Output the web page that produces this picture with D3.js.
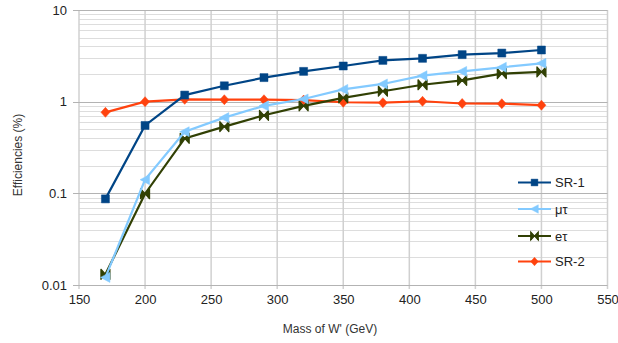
<!DOCTYPE html>
<html><head><meta charset="utf-8">
<script src="https://cdn.jsdelivr.net/npm/d3@7"></script>
<style>
html,body{margin:0;padding:0;background:#fff;}
svg{display:block;font-family:"Liberation Sans",Arial,sans-serif;}
</style></head>
<body><svg id="c" width="618" height="343"></svg>
<script>
const masses = [170,200,230,260,290,320,350,380,410,440,470,500];
const sr1 = [0.087,0.55,1.18,1.49,1.83,2.14,2.45,2.82,2.97,3.26,3.39,3.66];
const mutau = [0.0121,0.141,0.47,0.67,0.90,1.07,1.36,1.56,1.92,2.14,2.37,2.62];
const etau = [0.0131,0.099,0.398,0.534,0.71,0.90,1.10,1.30,1.53,1.71,2.02,2.11];
const sr2 = [0.765,1.0,1.06,1.05,1.05,1.04,0.985,0.975,1.01,0.955,0.95,0.915];
const xTicks = [150,200,250,300,350,400,450,500,550];
const yTicks = [0.01,0.1,1,10];
const yTickLabels = ["0.01","0.1","1","10"];
const seriesNames = ["SR-1","\u03bc\u03c4","e\u03c4","SR-2"];
const seriesColors = ["#004586","#83caff","#314004","#ff420e"];
const seriesMarkers = ["square","triLeft","bowtie","diamond"];

const svg = d3.select("#c");
const L=79, R=607.5, T=10, B=285;
const x = d3.scaleLinear().domain([150,550]).range([L,R]);
const y = d3.scaleLog().domain([0.01,10]).range([B,T]);

// minor horizontal grid
const minor=[];
for (let d=0.01; d<10-1e-9; d*=10) for (let k=2;k<=9;k++) minor.push(d*k);
svg.append("g").selectAll("line").data(minor).join("line")
  .attr("x1",L).attr("x2",R).attr("y1",d=>Math.round(y(d))+0.5).attr("y2",d=>Math.round(y(d))+0.5)
  .attr("stroke","#dddddd").attr("stroke-width",1);
// vertical grid
svg.append("g").selectAll("line").data(xTicks).join("line")
  .attr("x1",d=>x(d)).attr("x2",d=>x(d)).attr("y1",T).attr("y2",B+4)
  .attr("stroke","#d0d0d0").attr("stroke-width",1.5);
// major horizontal grid
svg.append("g").selectAll("line").data(yTicks).join("line")
  .attr("x1",L-6).attr("x2",R).attr("y1",d=>Math.round(y(d))+0.5).attr("y2",d=>Math.round(y(d))+0.5)
  .attr("stroke","#b3b3b3").attr("stroke-width",1.2);

// axes labels via d3 axes
const xAxis = d3.axisBottom(x).tickValues(xTicks).tickSize(0).tickPadding(10);
const gx = svg.append("g").attr("transform",`translate(0,${B})`).call(xAxis);
gx.select(".domain").remove();
gx.selectAll("text").attr("font-size",13).attr("fill","#222").attr("font-family","Liberation Sans, Arial, sans-serif");

const yAxis = d3.axisLeft(y).tickValues(yTicks).tickFormat((d,i)=>yTickLabels[i]).tickSize(0).tickPadding(12);
const gy = svg.append("g").attr("transform",`translate(${L},0)`).call(yAxis);
gy.select(".domain").remove();
gy.selectAll("text").attr("font-size",13).attr("fill","#222").attr("font-family","Liberation Sans, Arial, sans-serif");

// axis titles
svg.append("text").attr("x",330).attr("y",333).attr("text-anchor","middle")
  .attr("font-size",12).attr("fill","#333").text("Mass of W' (GeV)");
svg.append("text").attr("transform","translate(22,155) rotate(-90)").attr("text-anchor","middle")
  .attr("font-size",12).attr("fill","#333").text("Efficiencies (%)");

function markerPath(type){
  switch(type){
    case "square": return "M-4,-4H4V4H-4Z";
    case "triLeft": return "M-5,0L4.5,-5L4.5,5Z";
    case "bowtie": return "M-4.5,-5L0,0L-4.5,5Z M4.5,-5L0,0L4.5,5Z";
    case "diamond": return "M0,-5L4.5,0L0,5L-4.5,0Z";
  }
}
const allSeries=[sr1,mutau,etau,sr2];
const line = d3.line().x(d=>x(d[0])).y(d=>y(d[1]));
const drawOrder=[3,2,1,0];
drawOrder.forEach(i=>{
  const data = masses.map((m,j)=>[m,allSeries[i][j]]);
  const g=svg.append("g");
  g.append("path").datum(data).attr("d",line).attr("fill","none")
    .attr("stroke",seriesColors[i]).attr("stroke-width",2.2);
  g.selectAll("path.m").data(data).join("path").attr("class","m")
    .attr("transform",d=>`translate(${x(d[0])},${y(d[1])})`)
    .attr("d",markerPath(seriesMarkers[i]))
    .attr("fill",seriesColors[i]).attr("stroke",seriesColors[i]).attr("stroke-width",i===2?1.2:0.5).attr("stroke-linejoin","round");
});

// legend
const legY=[182.5,209,236,261.5];
seriesNames.forEach((n,i)=>{
  const g=svg.append("g").attr("transform",`translate(0,${legY[i]})`);
  g.append("line").attr("x1",518).attr("x2",551).attr("y1",0).attr("y2",0)
    .attr("stroke",seriesColors[i]).attr("stroke-width",2.2);
  g.append("path").attr("transform","translate(534.5,0) scale(0.85)").attr("d",markerPath(seriesMarkers[i]))
    .attr("fill",seriesColors[i]).attr("stroke",seriesColors[i]).attr("stroke-width",i===2?1.2:0.5);
  g.append("text").attr("x",555).attr("y",4.5).attr("font-size",13).attr("fill","#222").text(n);
});
</script></body></html>
